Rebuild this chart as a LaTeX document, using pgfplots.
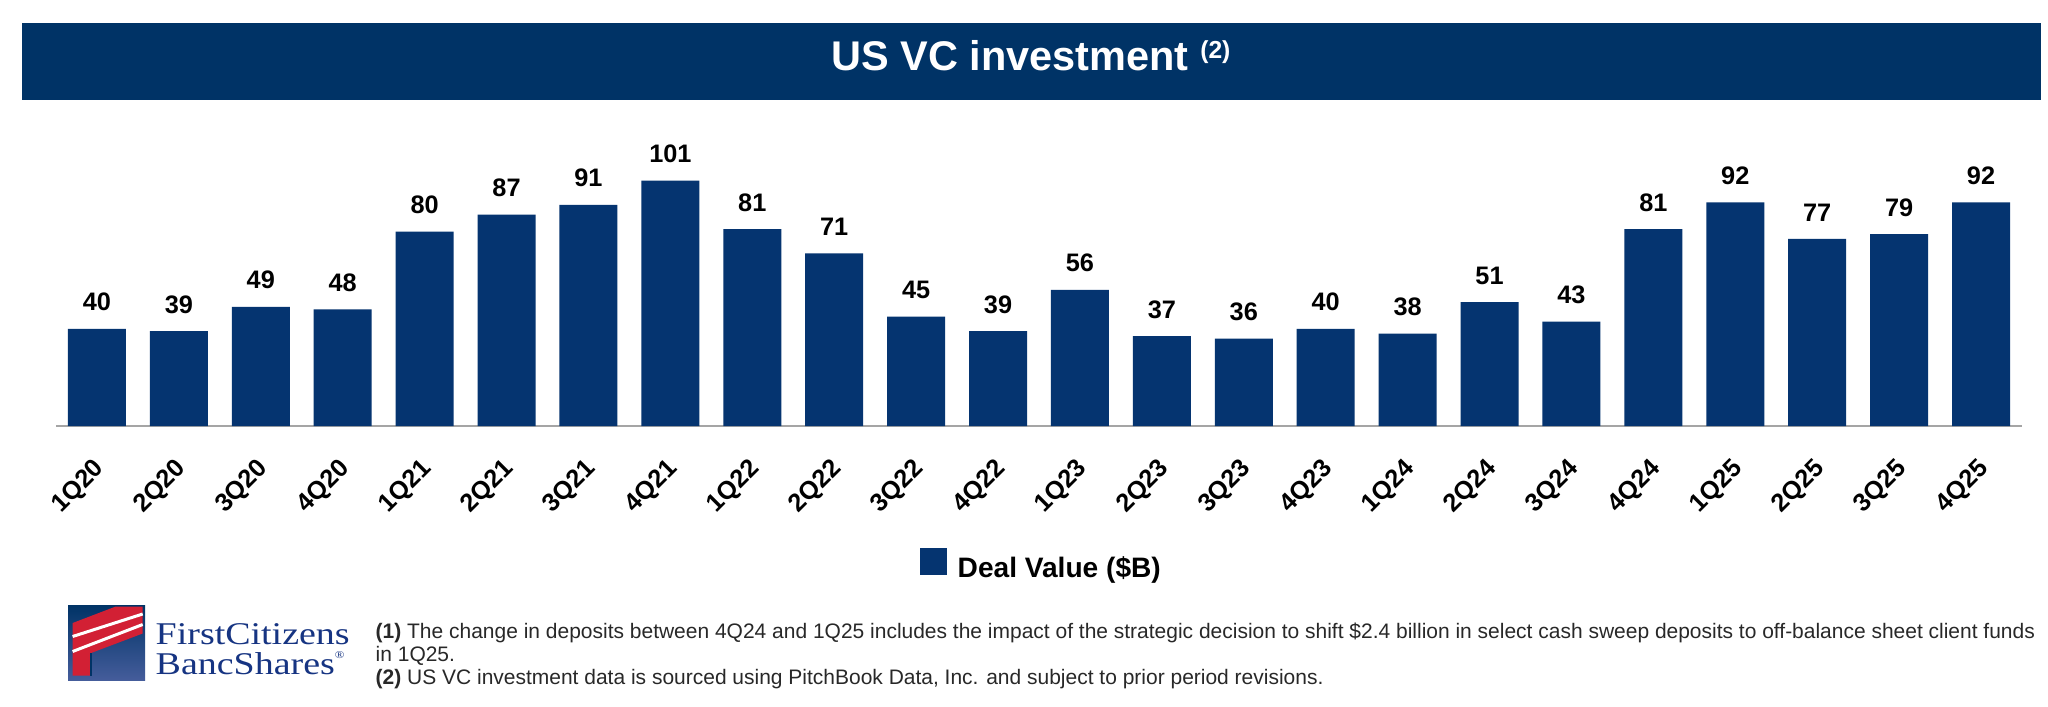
\documentclass[border=0pt]{standalone}
\usepackage{pgfplots}
\pgfplotsset{compat=1.18}
\usepackage{graphicx}
\usepackage{fontspec}
\setmainfont{Liberation Sans}
\newfontfamily\logofont{Liberation Serif}
\definecolor{banner}{RGB}{0,51,102}
\definecolor{barblue}{RGB}{5,52,112}
\definecolor{axisgray}{RGB}{165,165,165}
\definecolor{logored}{RGB}{210,32,52}
\definecolor{logoblue}{RGB}{22,52,130}
\definecolor{notegray}{RGB}{40,40,40}
\begin{document}
\begin{tikzpicture}
\useasboundingbox (0,0) rectangle (204.8mm,70.6mm);
\fill[white] (0,0) rectangle (204.8mm,70.6mm);
% title banner
\fill[banner] (2.2mm,60.6mm) rectangle (204.1mm,68.3mm);
\node[anchor=base, inner sep=0pt, text=white, font=\bfseries\fontsize{11.8}{13}\selectfont] at (103.1mm,63.6mm) {US VC investment \raisebox{1.2mm}{\fontsize{7}{8}\selectfont(2)}};
\begin{axis}[
  at={(5.6mm,28.0mm)}, anchor=south west,
  width=196.6mm, height=26.73mm, scale only axis,
  xmin=-0.5, xmax=23.5, ymin=0, ymax=110,
  axis y line=none, axis x line*=bottom,
  x axis line style={-, draw=axisgray, line width=0.2mm},
  xtick={0,...,23},
  xticklabels={1Q20,2Q20,3Q20,4Q20,1Q21,2Q21,3Q21,4Q21,1Q22,2Q22,3Q22,4Q22,1Q23,2Q23,3Q23,4Q23,1Q24,2Q24,3Q24,4Q24,1Q25,2Q25,3Q25,4Q25},
  xtick style={draw=none}, major tick length=0pt,
  xticklabel style={font=\bfseries\fontsize{7.2}{8}\selectfont, xshift=0.4mm, yshift=-3.9mm, rotate=45, anchor=east, inner sep=0pt},
  ybar, bar width=5.8mm,
  nodes near coords,
  nodes near coords style={font=\bfseries\fontsize{7.2}{8}\selectfont, inner sep=0pt, anchor=south, yshift=1.7mm},
  /pgf/number format/assume math mode=true,
  clip=false,
]
\addplot[fill=barblue, draw=none] coordinates {
(0,40) (1,39) (2,49) (3,48) (4,80) (5,87) (6,91) (7,101) (8,81) (9,71) (10,45) (11,39)
(12,56) (13,37) (14,36) (15,40) (16,38) (17,51) (18,43) (19,81) (20,92) (21,77) (22,79) (23,92)};
\end{axis}
% legend
\fill[barblue] (92.0mm,13.1mm) rectangle (94.7mm,15.8mm);
\node[anchor=base west, inner sep=0pt, font=\bfseries\fontsize{8}{9}\selectfont] at (95.7mm,12.9mm) {Deal Value (\$B)};
% logo
\begin{scope}[shift={(6.8mm,2.6mm)}, x=7.7mm, y=7.5mm]
  \shade[top color=banner, bottom color=logoblue!80!white] (0,0) rectangle (1,1);
  \fill[logored] (0.06,0.06) -- (0.30,0.06) -- (0.30,0.36) -- (0.97,0.62) -- (0.97,0.98) -- (0.62,0.98) -- (0.06,0.76) -- cycle;
  \draw[white, line width=0.3mm] (0.06,0.38) -- (0.97,0.74);
  \draw[white, line width=0.3mm] (0.06,0.58) -- (0.97,0.88);
  \draw[banner, line width=0.25mm] (0.30,0.06) -- (0.30,0.36);
\end{scope}
\node[anchor=base west, inner sep=0pt, text=logoblue, font=\logofont\fontsize{9}{10}\selectfont] at (15.5mm,6.2mm) {\scalebox{1.2}[1]{FirstCitizens}};
\node[anchor=base west, inner sep=0pt, text=logoblue, font=\logofont\fontsize{9}{10}\selectfont] at (15.5mm,3.2mm) {\scalebox{1.2}[1]{BancShares\raisebox{1.6mm}{\fontsize{3}{3}\selectfont\textregistered}}};
% footnotes
\begin{scope}[every node/.style={anchor=base west, inner sep=0pt, text=notegray, font=\fontsize{5.97}{6.5}\selectfont}]
\node at (37.5mm,6.8mm) {\textbf{(1)} The change in deposits between 4Q24 and 1Q25 includes the impact of the strategic decision to shift \$2.4 billion in select cash sweep deposits to off-balance sheet client funds};
\node at (37.5mm,4.5mm) {in 1Q25.};
\node at (37.5mm,2.2mm) {\textbf{(2)} US VC investment data is sourced using PitchBook Data, Inc. and subject to prior period revisions.};
\end{scope}
\end{tikzpicture}
\end{document}
